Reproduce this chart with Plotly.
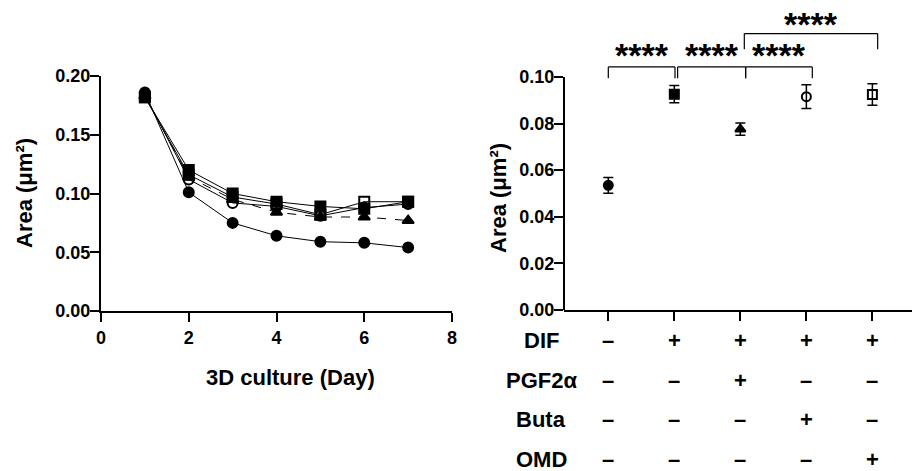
import plotly.graph_objects as go

# ---------------- data ----------------
days = [1, 2, 3, 4, 5, 6, 7]
ctrl_series = [0.186, 0.101, 0.075, 0.064, 0.059, 0.058, 0.054]
dif_series = [0.182, 0.120, 0.100, 0.093, 0.089, 0.087, 0.093]
pgf_series = [0.183, 0.114, 0.095, 0.084, 0.080, 0.080, 0.077]
buta_series = [0.184, 0.112, 0.092, 0.089, 0.081, 0.088, 0.091]
omd_series = [0.182, 0.116, 0.097, 0.091, 0.082, 0.093, 0.093]

groups = [0, 1, 2, 3, 4]
group_means = [0.0535, 0.0926, 0.0776, 0.0915, 0.0925]
group_err = [0.0034, 0.0037, 0.0026, 0.0051, 0.0046]

row_labels = ["DIF", "PGF2α", "Buta", "OMD"]
row_signs = [
    ["–", "+", "+", "+", "+"],
    ["–", "–", "+", "–", "–"],
    ["–", "–", "–", "+", "–"],
    ["–", "–", "–", "–", "+"],
]
comparisons = [(0, 1), (1, 2), (2, 3), (2, 4)]
comparison_labels = ["****", "****", "****", "****"]

left_xticks = [0, 2, 4, 6, 8]
left_yticks = [0.0, 0.05, 0.10, 0.15, 0.20]
right_yticks = [0.0, 0.02, 0.04, 0.06, 0.08, 0.10]

# ---------------- style ----------------
FONT = "Liberation Sans, Arial, Helvetica, sans-serif"
W, H = 912, 471

series_styles = [
    (ctrl_series, "circle", "solid"),
    (dif_series, "square", "solid"),
    (pgf_series, "triangle-up", "dash"),
    (buta_series, "circle-open", "solid"),
    (omd_series, "square-open", "solid"),
]
group_symbols = ["circle", "square", "triangle-up", "circle-open", "square-open"]

fig = go.Figure()

for vals, sym, dash in series_styles:
    fig.add_trace(go.Scatter(
        x=days, y=vals, mode="lines+markers",
        line=dict(color="black", width=1, dash=dash),
        marker=dict(symbol=sym, size=10, color="black",
                    line=dict(color="black", width=2)),
        xaxis="x", yaxis="y", showlegend=False, cliponaxis=False,
    ))

for g, m, e, sym in zip(groups, group_means, group_err, group_symbols):
    fig.add_trace(go.Scatter(
        x=[g], y=[m], mode="markers",
        marker=dict(symbol=sym, size=9, color="black",
                    line=dict(color="black", width=2)),
        error_y=dict(type="data", array=[e], color="black", thickness=1.5, width=5),
        xaxis="x2", yaxis="y2", showlegend=False, cliponaxis=False,
    ))

tickfont = dict(family=FONT, size=18, color="black", weight="bold")
axis_common = dict(showgrid=False, zeroline=False, showline=True, linewidth=2,
                   linecolor="black", ticks="outside", ticklen=9, tickwidth=2,
                   tickcolor="black", tickfont=tickfont, automargin=False)

fig.update_layout(
    width=W, height=H, autosize=False,
    margin=dict(l=0, r=0, t=0, b=0, autoexpand=False),
    paper_bgcolor="white", plot_bgcolor="white",
    xaxis=dict(domain=[101 / W, 452 / W], range=[0, 8], tickvals=left_xticks,
               anchor="y", **axis_common),
    yaxis=dict(domain=[1 - 311 / H, 1 - 76 / H], range=[0, 0.2], tickvals=left_yticks,
               tickformat=".2f", anchor="x", ticklabelstandoff=-4, **axis_common),
    xaxis2=dict(domain=[564 / W, 1.0], range=[-0.671, 4.6], tickvals=groups,
                showticklabels=False, anchor="y2", **axis_common),
    yaxis2=dict(domain=[1 - 310 / H, 1 - 7 / H], range=[0, 0.13], tickvals=right_yticks,
                tickformat=".2f", anchor="x2", ticklabelstandoff=-4,
                **{**axis_common, "showline": False}),
)

shapes = []
# right y axis line only up to 0.10
shapes.append(dict(type="line", xref="x2 domain", yref="y2", x0=0, x1=0,
                   y0=0, y1=right_yticks[-1], line=dict(color="black", width=2)))

# significance brackets
levels = [0, 0, 0, 1]
x_shift_l = [0.0, 0.05, 0.08, 0.06]
x_shift_r = [0.01, 0.08, 0.09, 0.08]
lvl_y = [0.1043, 0.1186]
tick_drop = [0.0049, 0.0067]
star_y = [0.1093, 0.1228]
annotations = []
for (i, j), lab, lv, sl, sr in zip(comparisons, comparison_labels, levels, x_shift_l, x_shift_r):
    x0, x1 = i + sl, j + sr
    y = lvl_y[lv]
    yb = y - tick_drop[lv]
    for xa, xb, ya, yb_ in [(x0, x1, y, y), (x0, x0, y, yb), (x1, x1, y, yb)]:
        shapes.append(dict(type="line", xref="x2", yref="y2", x0=xa, x1=xb, y0=ya, y1=yb_,
                           line=dict(color="black", width=1.2)))
    annotations.append(dict(x=(x0 + x1) / 2, y=star_y[lv], xref="x2", yref="y2",
                            text=lab, showarrow=False, xanchor="center", yanchor="middle",
                            font=dict(family=FONT, size=34, color="black", weight="bold")))

titlefont = dict(family=FONT, size=22, color="black", weight="bold")
annotations.append(dict(x=290 / W, y=1 - 377 / H, xref="paper", yref="paper",
                        xanchor="center", yanchor="middle",
                        text="3D culture (Day)", showarrow=False, font=titlefont))
annotations.append(dict(x=24 / W, y=1 - 193 / H, xref="paper", yref="paper",
                        xanchor="center", yanchor="middle",
                        text="Area (μm²)", textangle=-90, showarrow=False, font=titlefont))
annotations.append(dict(x=498 / W, y=1 - 198 / H, xref="paper", yref="paper",
                        xanchor="center", yanchor="middle",
                        text="Area (μm²)", textangle=-90, showarrow=False, font=titlefont))

row_y = [340.7, 380.7, 419.3, 459.3]
rowfont = dict(family=FONT, size=22, color="black", weight="bold")
for lab, ry, signs in zip(row_labels, row_y, row_signs):
    annotations.append(dict(x=541 / W, y=1 - ry / H, xref="paper", yref="paper",
                            xanchor="center", yanchor="middle",
                            text=lab, showarrow=False, font=rowfont))
    for g, s in zip(groups, signs):
        annotations.append(dict(x=g, y=1 - ry / H, xref="x2", yref="paper",
                                xanchor="center", yanchor="middle",
                                text=s, showarrow=False, font=rowfont))

fig.update_layout(shapes=shapes, annotations=annotations)
fig.write_html("out.html", config={"displayModeBar": False},
               post_script="document.body.style.margin='0';document.body.style.overflow='hidden';")
